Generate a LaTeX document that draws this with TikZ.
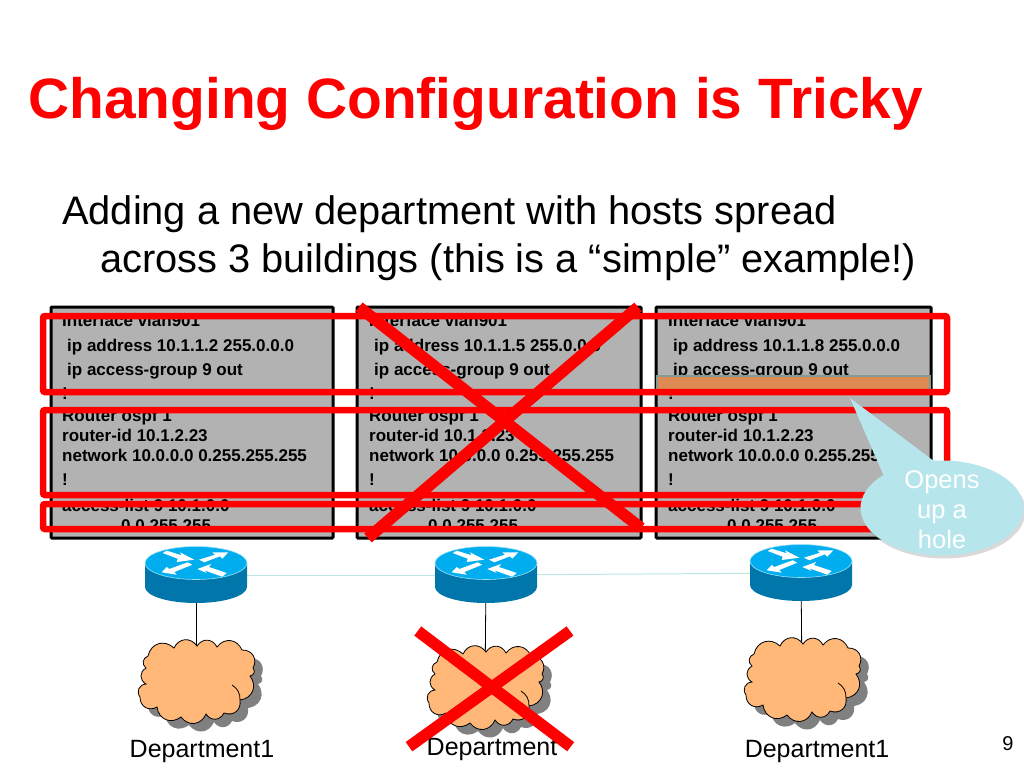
\documentclass[tikz,border=0pt]{standalone}
\usepackage{fontspec}
\setmainfont{Liberation Sans}
\usetikzlibrary{shapes.callouts,shadows}
\definecolor{redmark}{RGB}{255,0,0}
\definecolor{panelgray}{RGB}{178,178,178}
\definecolor{routertop}{RGB}{0,174,239}
\definecolor{routerside}{RGB}{0,118,170}
\definecolor{cloudfill}{RGB}{255,184,120}
\definecolor{calloutfill}{RGB}{182,230,236}
\definecolor{linkteal}{RGB}{190,228,228}
\definecolor{barfill}{RGB}{222,138,82}
\definecolor{baredge}{RGB}{130,155,150}
\tikzset{
  panel/.style={draw=black,line width=3pt,fill=panelgray,rounded corners=1pt},
  cfgline/.style={anchor=base west,inner sep=0pt,font=\fontsize{17}{18}\selectfont\bfseries},
  redbox/.style={draw=redmark,line width=6.5pt,rounded corners=2pt},
  redcross/.style={draw=redmark,line width=11.5pt},
  hidden/.style={inner sep=0pt,minimum width=#1,minimum height=#1},
  deptlabel/.style={inner sep=0pt,anchor=base,font=\fontsize{25}{28}\selectfont},
  bodyline/.style={inner sep=0pt,anchor=base west,font=\fontsize{39.8}{44}\selectfont},
  bump/.style={bend left=60,looseness=1.25},
}
% one router at (#1,#2), arrows white
\newcommand{\routericon}[2]{
  \begin{scope}[shift={(#1,#2)}]
  \fill[routerside] (-51,-12) -- (-51,12) arc[start angle=180,end angle=0,x radius=51,y radius=16] -- (51,-12) -- cycle;
  \fill[routertop,draw=white!60!routertop,line width=.6pt] (0,-12) ellipse[x radius=51,y radius=16.5];
  \fill[white] (-33.3,-22) -- (-29.3,-24.3) -- (-14.3,-19.7) -- (-16,-22.7) -- (-1.7,-15.3) -- (-19.3,-13) -- (-18.3,-16.3) -- cycle;
  \fill[white] (3,-15.3) -- (19,-20.3) -- (16.3,-22.7) -- (32.3,-22.7) -- (26.3,-16.3) -- (24,-18.7) -- (8.3,-12.7) -- cycle;
  \fill[white] (-34.3,-2.7) -- (-29.3,-8) -- (-26.7,-6) -- (-8.3,-12.7) -- (-3.7,-10.3) -- (-21.7,-3) -- (-19.3,-.3) -- cycle;
  \fill[white] (1.3,-6) -- (15,-11) -- (13,-8) -- (30.7,-2) -- (26.3,1.7) -- (8.3,-4.7) -- (10.7,-2) -- cycle;
  \end{scope}
}
% one department cloud, shadow then outline
\newcommand{\cloudshape}{
  (1,-36) to[bump] (21,-35) to[bump] (46,-32) to[bump] (57,-14) to[bump] (54,-6)
  to[bump] (44,18) to[bump] (28,31) to[bump] (10,32) to[bump] (-15,35)
  to[bump] (-39,25) to[bump] (-56,15) to[bump] (-50,2) to[bump] (-50,-14)
  to[bump] (-48,-26) to[bump] (-22,-34) to[bump] cycle
}
\newcommand{\cloudicon}[2]{
  \begin{scope}[shift={(#1,#2)}]
  \fill[black!50,shift={(8,8)}] \cloudshape;
  \draw[black,line width=.8pt,fill=cloudfill] \cloudshape;
  \draw[black,line width=.8pt] (36,3) to[bend left=30] (44,18);
  \end{scope}
}
\begin{document}
\begin{tikzpicture}[x=1pt,y=-1pt]
\useasboundingbox (0,0) rectangle (1024,768);
% title and text
\node[anchor=base west,inner sep=0pt,text=redmark,font=\fontsize{56.9}{60}\selectfont\bfseries] (title) at (28,118) {Changing Configuration is Tricky};
\node[bodyline] (body1) at (62,224) {Adding a new department with hosts spread};
\node[bodyline] (body2) at (100,272) {across 3 buildings (this is a “simple” example!)};
% config panels
\node[panel,minimum width=282pt,minimum height=231pt] (panel1) at (192,422.5) {};
\node[panel,minimum width=284pt,minimum height=231pt] (panel2) at (499,422.5) {};
\node[panel,minimum width=275pt,minimum height=231pt] (panel3) at (793.5,422.5) {};
\node[cfgline] (a1) at (62,326) {Interface vlan901};
\node[cfgline] (a2) at (67,351) {ip address 10.1.1.2 255.0.0.0};
\node[cfgline] (a3) at (67,375) {ip access-group 9 out};
\node[cfgline] (a4) at (62,399) {!};
\node[cfgline] (a5) at (62,421) {Router ospf 1};
\node[cfgline] (a6) at (62,441) {router-id 10.1.2.23};
\node[cfgline] (a7) at (62,461) {network 10.0.0.0 0.255.255.255};
\node[cfgline] (a8) at (62,485) {!};
\node[cfgline] (a9) at (62,511) {access-list 9 10.1.0.0};
\node[cfgline] (a10) at (121,531) {0.0.255.255};
\node[cfgline] (b1) at (369,326) {Interface vlan901};
\node[cfgline] (b2) at (374,351) {ip address 10.1.1.5 255.0.0.0};
\node[cfgline] (b3) at (374,375) {ip access-group 9 out};
\node[cfgline] (b4) at (369,399) {!};
\node[cfgline] (b5) at (369,421) {Router ospf 1};
\node[cfgline] (b6) at (369,441) {router-id 10.1.2.23};
\node[cfgline] (b7) at (369,461) {network 10.0.0.0 0.255.255.255};
\node[cfgline] (b8) at (369,485) {!};
\node[cfgline] (b9) at (369,511) {access-list 9 10.1.0.0};
\node[cfgline] (b10) at (428,531) {0.0.255.255};
\node[cfgline] (c1) at (668,326) {Interface vlan901};
\node[cfgline] (c2) at (673,351) {ip address 10.1.1.8 255.0.0.0};
\node[cfgline] (c3) at (673,375) {ip access-group 9 out};
\node[cfgline] (c4) at (668,399) {!};
\node[cfgline] (c5) at (668,421) {Router ospf 1};
\node[cfgline] (c6) at (668,441) {router-id 10.1.2.23};
\node[cfgline] (c7) at (668,461) {network 10.0.0.0 0.255.255.255};
\node[cfgline] (c8) at (668,485) {!};
\node[cfgline] (c9) at (668,511) {access-list 9 10.1.0.0};
\node[cfgline] (c10) at (727,531) {0.0.255.255};
\draw[draw=baredge,line width=2pt,fill=barfill] (657,376) rectangle (930,392);
% routers and links
\node[hidden=1pt] (router1) at (196,575) {};
\node[hidden=1pt] (router2) at (486,575) {};
\node[hidden=1pt] (router3) at (801,573) {};
\draw[linkteal,line width=1pt] (router1) -- (router2);
\draw[linkteal,line width=1pt] (router2) -- (router3);
\node[hidden=1pt] (dept1) at (196,682) {};
\node[hidden=1pt] (dept2) at (485,688) {};
\node[hidden=1pt] (dept3) at (802,680) {};
\draw[black,line width=.8pt] (router1) -- (dept1);
\draw[black,line width=.8pt] (router2) -- (dept2);
\draw[black,line width=.8pt] (router3) -- (dept3);
\routericon{196}{575}
\routericon{486}{575}
\routericon{801}{573}
\cloudicon{196}{682}
\cloudicon{485}{688}
\cloudicon{802}{680}
\node[deptlabel] (label1) at (202,757) {Department1};
\node[deptlabel] (label2) at (492,755) {Department};
\node[deptlabel] (label3) at (817,757) {Department1};
\node[anchor=base,inner sep=0pt,font=\fontsize{20}{22}\selectfont] (pagenum) at (1008,750) {9};
% red marks
\draw[redbox] (43,316) rectangle (947,392);
\draw[redbox] (43,410) rectangle (947,495);
\draw[redbox] (43,504) rectangle (947,529);
\coordinate (xa) at (359,307);
\coordinate (xb) at (641,528);
\coordinate (xc) at (638,307);
\coordinate (xd) at (368,538);
\draw[redcross] (xa) -- (xb);
\draw[redcross] (xc) -- (xd);
\coordinate (ya) at (417.7,631);
\coordinate (yb) at (570.7,746.7);
\coordinate (yc) at (570,631);
\coordinate (yd) at (409,746.7);
\draw[redcross] (ya) -- (yb);
\draw[redcross] (yc) -- (yd);
% callout
\node[ellipse callout,draw=none,fill=calloutfill,minimum width=163pt,minimum height=95pt,inner sep=0pt,
  callout absolute pointer={(850,398)},callout pointer arc=40,
  drop shadow={opacity=.3,shadow xshift=2pt,shadow yshift=-3pt}] (hole) at (942,508) {};
\node[text=white,align=center,inner sep=0pt,font=\fontsize{25.5}{30}\selectfont] (holetext) at (942,510) {Opens\\up a\\hole};
\end{tikzpicture}
\end{document}
